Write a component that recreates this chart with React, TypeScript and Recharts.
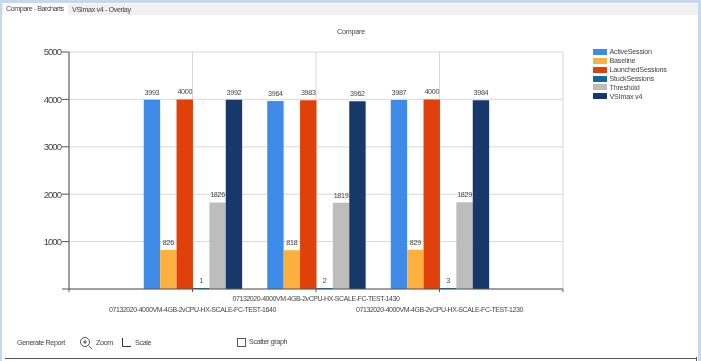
import { Bar, BarChart, CartesianGrid, LabelList, XAxis, YAxis } from "recharts";

const positions = [1, 2, 3];
const testNames = [
  "07132020-4000VM-4GB-2vCPU-HX-SCALE-FC-TEST-1640",
  "07132020-4000VM-4GB-2vCPU-HX-SCALE-FC-TEST-1430",
  "07132020-4000VM-4GB-2vCPU-HX-SCALE-FC-TEST-1230",
];
const activeSession = [3993, 3964, 3987];
const baseline = [826, 818, 829];
const launchedSessions = [4000, 3983, 4000];
const stuckSessions = [1, 2, 3];
const threshold = [1826, 1819, 1829];
const vsiMax = [3992, 3962, 3984];
const valueTicks = [0, 1000, 2000, 3000, 4000, 5000];
const xTicks = [0, 1, 2, 3, 4];

const series = [
  { key: "ActiveSession", color: "#3f8ce8" },
  { key: "Baseline", color: "#fbb040" },
  { key: "LaunchedSessions", color: "#e0400a" },
  { key: "StuckSessions", color: "#0f6a9c" },
  { key: "Threshold", color: "#bdbdbd" },
  { key: "VSImax v4", color: "#16386b" },
];

const data = positions.map((pos, i) => ({
  pos,
  ActiveSession: activeSession[i],
  Baseline: baseline[i],
  LaunchedSessions: launchedSessions[i],
  StuckSessions: stuckSessions[i],
  Threshold: threshold[i],
  "VSImax v4": vsiMax[i],
}));

const FONT = "'Liberation Sans', sans-serif";
const TEXT = "#444";
const SMALL = 7.2;

function NameTick({ x, y, payload }: any) {
  const name = testNames[payload.value - 1];
  if (!name) return null;
  // middle label sits on the upper row
  const dy = payload.value === 2 ? 7 : 17.5;
  return (
    <text x={x} y={y + dy} textAnchor="middle" fontSize={7} letterSpacing={-0.43} fill={TEXT} fontFamily={FONT}>
      {name}
    </text>
  );
}

function Label({ left, top, spacing = -0.38, children }: any) {
  return (
    <div
      style={{
        position: "absolute",
        left,
        top,
        fontSize: SMALL,
        letterSpacing: spacing,
        lineHeight: "10px",
        whiteSpace: "nowrap",
      }}
    >
      {children}
    </div>
  );
}

export default function App() {
  return (
    <div
      style={{
        position: "absolute",
        left: 0,
        top: 0,
        width: 701,
        height: 361,
        overflow: "hidden",
        background: "#fff",
        fontFamily: FONT,
        color: TEXT,
        filter: "blur(0.3px)",
      }}
    >
      {/* window frame and tabs */}
      <div style={{ position: "absolute", left: 0, top: 0, width: 701, height: 3, background: "#c5d9ee" }} />
      <div style={{ position: "absolute", left: 0, top: 0, width: 2, height: 361, background: "#c5d9ee" }} />
      <div style={{ position: "absolute", right: 0, top: 0, width: 3, height: 361, background: "#c5d9ee" }} />
      <div style={{ position: "absolute", left: 2, top: 4, width: 696, height: 11, background: "#f0f0f0" }} />
      <div style={{ position: "absolute", left: 3, top: 3, width: 65, height: 13, background: "#fff" }} />
      <Label left={6} top={4} spacing={-0.48}>Compare - Barcharts</Label>
      <Label left={72} top={5}>VSImax v4 - Overlay</Label>
      <Label left={337} top={27} spacing={-0.22}>Compare</Label>

      <div style={{ position: "absolute", left: 0, top: 0 }}>
        <BarChart
          width={701}
          height={330}
          data={data}
          barSize={16.4}
          barGap={0}
          margin={{ top: 52, right: 138, bottom: 0, left: 0 }}
        >
          <CartesianGrid stroke="#d8d8d8" />
          <XAxis
            dataKey="pos"
            type="number"
            domain={[0, 4]}
            ticks={xTicks}
            allowDecimals={false}
            stroke="#555"
            tickSize={3}
            height={41}
            tick={<NameTick />}
            interval={0}
          />
          <YAxis
            domain={[0, 5000]}
            ticks={valueTicks}
            width={69}
            stroke="#555"
            tickSize={7}
            tickMargin={1}
            tick={{ fontSize: 9.5, fill: TEXT, fontFamily: FONT, letterSpacing: -0.95 }}
            tickFormatter={(v: number) => (v === 0 ? "" : String(v))}
          />
          {series.map((s) => (
            <Bar
              key={s.key}
              dataKey={s.key}
              fill={s.color}
              isAnimationActive={false}
              minPointSize={s.key === "StuckSessions" ? 1 : 0}
            >
              <LabelList
                dataKey={s.key}
                position="top"
                offset={5}
                fontSize={SMALL}
                letterSpacing={-0.32}
                fill={TEXT}
                fontFamily={FONT}
              />
            </Bar>
          ))}
        </BarChart>
      </div>

      {/* legend */}
      <div style={{ position: "absolute", left: 592.5, top: 47.25 }}>
        {series.map((s) => (
          <div key={s.key} style={{ display: "flex", alignItems: "center", height: 8.95, fontSize: SMALL, letterSpacing: -0.22 }}>
            <span style={{ width: 14, height: 6, background: s.color, marginRight: 3 }} />
            <span>{s.key}</span>
          </div>
        ))}
      </div>

      {/* report controls */}
      <Label left={17} top={337.5}>Generate Report</Label>
      <svg style={{ position: "absolute", left: 79, top: 336 }} width={14} height={14}>
        <circle cx={6} cy={6} r={4.5} fill="none" stroke="#555" />
        <path d="M9.5 9.5 L13 13 M4 6 H8 M6 4 V8" stroke="#555" />
      </svg>
      <Label left={96} top={337.5}>Zoom</Label>
      <svg style={{ position: "absolute", left: 121, top: 336 }} width={11} height={13}>
        <path d="M1.5 2 V10.5 H10" fill="none" stroke="#333" />
      </svg>
      <Label left={135} top={337.5}>Scale</Label>
      <div style={{ position: "absolute", left: 237, top: 338, width: 7, height: 7, border: "1px solid #555", background: "#fff" }} />
      <Label left={249} top={336.5}>Scatter graph</Label>
      <div style={{ position: "absolute", left: 5, top: 358, width: 692, height: 1, background: "#555" }} />
      <div style={{ position: "absolute", left: 696, top: 357, width: 1, height: 4, background: "#555" }} />
    </div>
  );
}
